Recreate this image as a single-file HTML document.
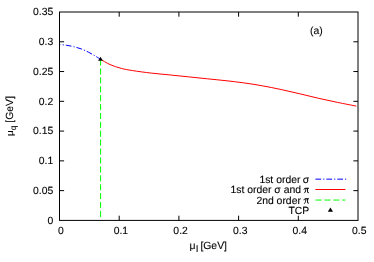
<!DOCTYPE html>
<html><head><meta charset="utf-8">
<style>
html,body{margin:0;padding:0;background:#fff;}
body{width:374px;height:262px;overflow:hidden;}
svg{display:block;will-change:transform;opacity:0.999;}
text{font-family:"Liberation Sans",sans-serif;font-size:10.4px;fill:#000;stroke:#000;stroke-width:0.1px;text-rendering:geometricPrecision;white-space:pre;}
</style></head><body>
<svg width="374" height="262" viewBox="0 0 374 262">
<rect width="374" height="262" fill="#fff"/>
<!-- curves -->
<path d="M59.50 44.60 C60.62 44.70 63.83 44.85 66.20 45.20 C68.57 45.55 71.20 46.08 73.70 46.70 C76.20 47.32 78.70 47.97 81.20 48.90 C83.70 49.83 86.37 51.12 88.70 52.30 C91.03 53.48 93.23 54.85 95.20 56.00 C97.17 57.15 99.62 58.67 100.50 59.20" stroke="#00f" stroke-width="1" fill="none" stroke-dasharray="5.8 2 1.15 2" stroke-dashoffset="4.65"/>
<path d="M100.50 59.20 C102.08 60.09 106.55 63.02 110.00 64.55 C113.45 66.07 117.47 67.35 121.20 68.35 C124.93 69.35 127.40 69.76 132.40 70.55 C137.40 71.34 144.95 72.37 151.20 73.10 C157.45 73.83 163.67 74.33 169.90 74.95 C176.13 75.58 182.37 76.21 188.60 76.85 C194.83 77.49 201.23 78.17 207.30 78.80 C213.37 79.42 218.93 79.92 225.00 80.60 C231.07 81.27 237.47 81.98 243.70 82.85 C249.93 83.72 256.15 84.68 262.40 85.80 C268.65 86.92 274.95 88.22 281.20 89.55 C287.45 90.88 293.67 92.34 299.90 93.80 C306.13 95.26 312.37 96.88 318.60 98.30 C324.83 99.72 331.02 101.05 337.30 102.35 C343.58 103.65 353.13 105.47 356.30 106.10" stroke="#f00" stroke-width="1" fill="none" stroke-linecap="butt"/>
<path d="M100.6 217.05 V59" stroke="#0f0" stroke-width="1" fill="none" stroke-dasharray="6.15 2.76"/>
<path d="M100.5 56.85 L102.95 60.75 L98.05 60.75Z" fill="#000"/>
<!-- frame -->
<g stroke="#000" stroke-width="1" fill="none">
<rect x="59.5" y="12" width="298.5" height="208.4"/>
<!-- y ticks -->
<path d="M59.5 190.63h4.6M358 190.63h-4.6 M59.5 160.86h4.6M358 160.86h-4.6 M59.5 131.09h4.6M358 131.09h-4.6 M59.5 101.32h4.6M358 101.32h-4.6 M59.5 71.54h4.6M358 71.54h-4.6 M59.5 41.77h4.6M358 41.77h-4.6"/>
<!-- x ticks -->
<path d="M119.2 220.4v-4.7M119.2 12v4.7 M178.9 220.4v-4.7M178.9 12v4.7 M238.6 220.4v-4.7M238.6 12v4.7 M298.3 220.4v-4.7M298.3 12v4.7"/>
</g>
<!-- legend -->
<path d="M315.4 179.15H346.2" stroke="#00f" stroke-width="1" stroke-dasharray="5.8 2 1.15 2"/>
<path d="M315.4 189.5H345.4" stroke="#f00" stroke-width="1"/>
<path d="M315.5 200.05H345.4" stroke="#0f0" stroke-width="1" stroke-dasharray="6.15 2.76"/>
<path d="M330.4 207.5 L333 211.7 L327.8 211.7Z" fill="#000"/>
<g>
<text x="259.40" y="182.80">1st order </text>
<text x="302.78" y="182.80">σ</text>
<text x="230.55" y="193.20">1st order </text>
<text x="274.25" y="193.20">σ</text>
<text x="280.75" y="193.20"> and </text>
<g transform="translate(303.75 187.65)" stroke="#000" fill="none" stroke-linecap="round"><path d="M0.3 1.7C0.5 0.9 0.9 0.6 1.5 0.6H4.8" stroke-width="1"/><path d="M2.1 0.8C2.05 2.6 1.85 4.2 0.9 5.2" stroke-width="0.95"/><path d="M3.8 0.8V4.4C3.8 5.2 4.4 5.4 5 4.8" stroke-width="0.95"/></g>
<text x="256.4" y="203.70">2nd order </text>
<g transform="translate(303.75 198.15)" stroke="#000" fill="none" stroke-linecap="round"><path d="M0.3 1.7C0.5 0.9 0.9 0.6 1.5 0.6H4.8" stroke-width="1"/><path d="M2.1 0.8C2.05 2.6 1.85 4.2 0.9 5.2" stroke-width="0.95"/><path d="M3.8 0.8V4.4C3.8 5.2 4.4 5.4 5 4.8" stroke-width="0.95"/></g>
<text x="288.50" y="213.50">TCP</text>
</g>
<!-- y tick labels -->
<g text-anchor="end">
<text x="53.3" y="223.80">0</text>
<text x="53.3" y="194.03">0.05</text>
<text x="53.3" y="164.26">0.1</text>
<text x="53.3" y="134.49">0.15</text>
<text x="53.3" y="104.72">0.2</text>
<text x="53.3" y="74.94">0.25</text>
<text x="53.3" y="45.17">0.3</text>
<text x="53.3" y="15.40">0.35</text>
</g>
<g text-anchor="middle">
<text x="61.0" y="233.9">0</text>
<text x="120.9" y="233.9">0.1</text>
<text x="180.6" y="233.9">0.2</text>
<text x="240.3" y="233.9">0.3</text>
<text x="299.7" y="233.9">0.4</text>
<text x="359.25" y="233.9">0.5</text>
</g>
<text x="310" y="33.9">(a)</text>
<g>
<text x="189.6" y="248.9">μ</text><text x="195.65" y="252.3" style="font-size:9.8px">I</text><text x="200.4" y="248.9">[GeV]</text>
</g>
<g transform="translate(13.1 136.3) rotate(-90)">
<text x="0" y="0" transform="scale(1 0.9)">μ</text><text x="6.15" y="3.0" style="font-size:8.4px">q</text><text x="13.65" y="0">[GeV]</text>
</g>
</svg>
</body></html>
